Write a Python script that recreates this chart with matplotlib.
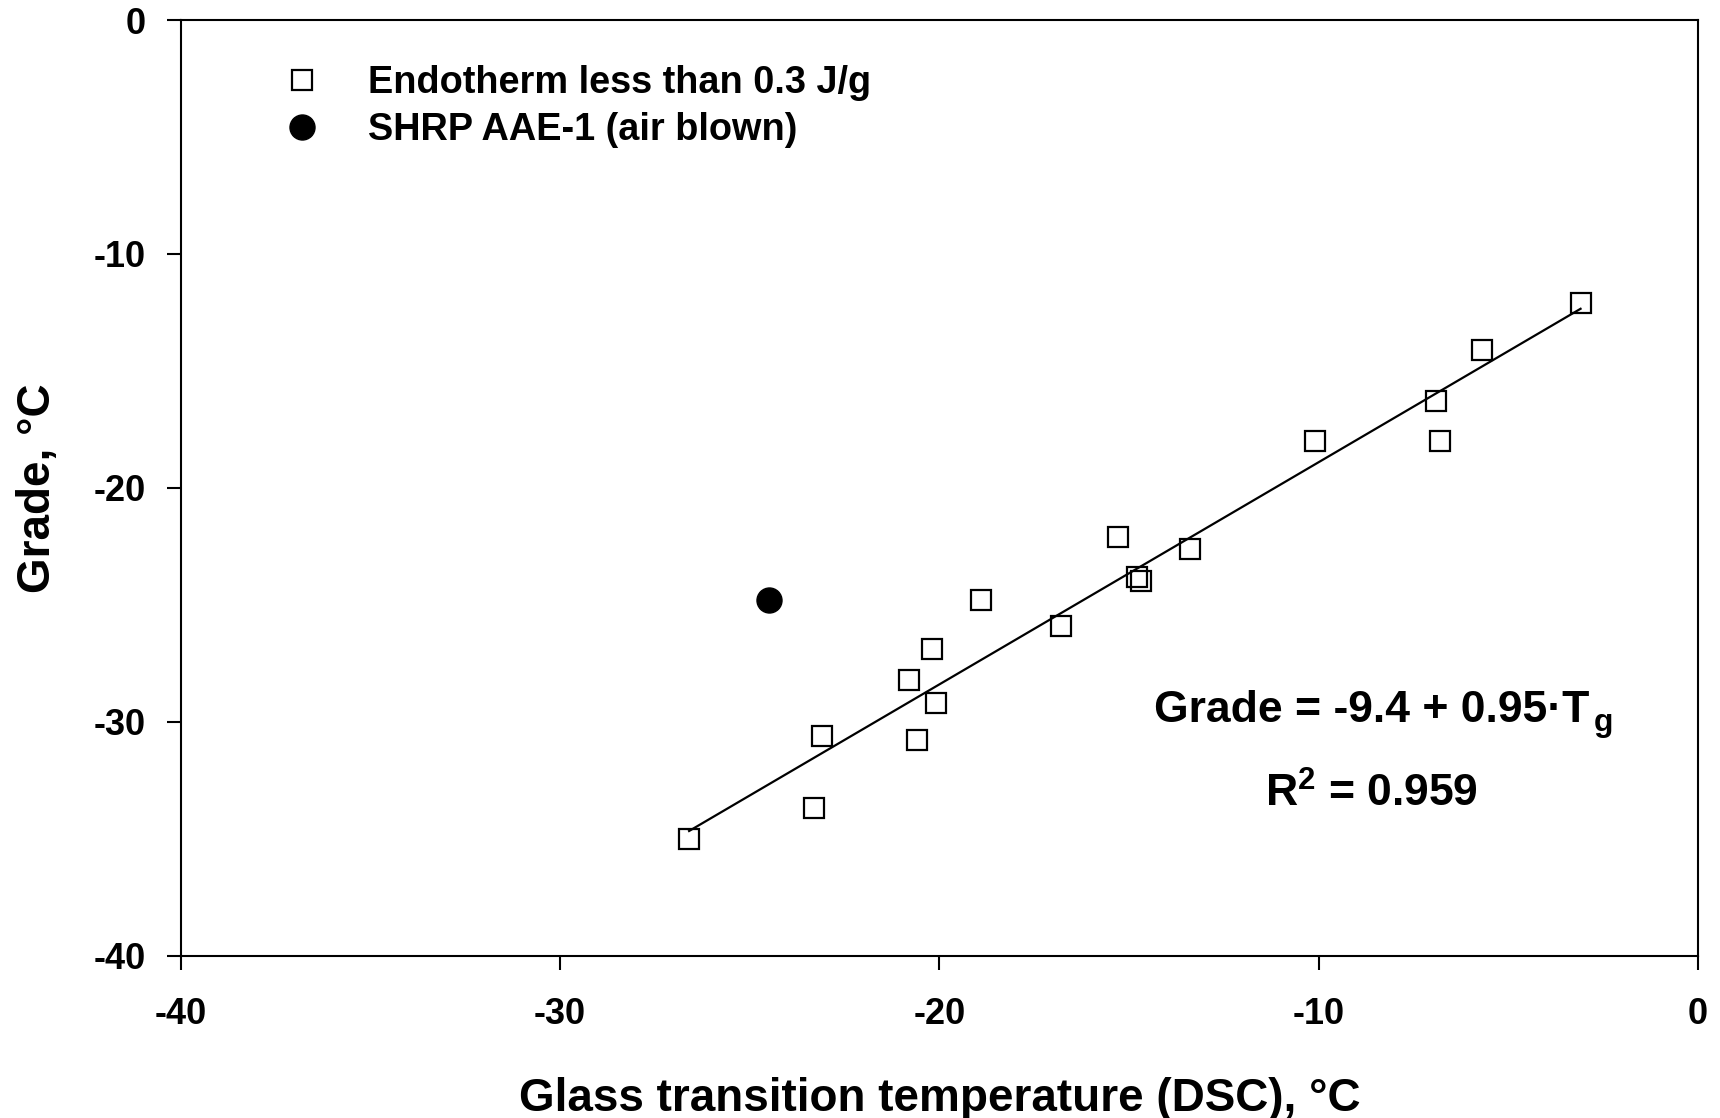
import matplotlib.pyplot as plt
from matplotlib.lines import Line2D
import numpy as np

plt.rcParams['font.family'] = ['Liberation Sans', 'DejaVu Sans']
plt.rcParams['font.weight'] = 'bold'
plt.rcParams['axes.unicode_minus'] = False
plt.rcParams['mathtext.fontset'] = 'custom'
plt.rcParams['mathtext.rm'] = 'Liberation Sans:bold'
plt.rcParams['mathtext.it'] = 'Liberation Sans:bold'
plt.rcParams['mathtext.bf'] = 'Liberation Sans:bold'

# binders with an endotherm below 0.3 J/g (Tg by DSC vs low-temperature grade)
tg_low = [-26.6, -23.3, -23.1, -20.8, -20.6, -20.2, -20.1, -18.9, -16.8,
          -15.3, -14.8, -14.7, -13.4, -10.1, -6.9, -6.8, -5.7, -3.1]
grade_low = [-35.0, -33.7, -30.6, -28.2, -30.8, -26.9, -29.2, -24.8, -25.9,
             -22.1, -23.8, -24.0, -22.6, -18.0, -16.3, -18.0, -14.1, -12.1]

# air blown binder, left out of the fit
tg_aae = [-24.5]
grade_aae = [-24.8]

# regression on the low-endotherm set
intercept = -9.4
slope = 0.95
r_squared = 0.959

x_ticks = [-40, -30, -20, -10, 0]
y_ticks = [-40, -30, -20, -10, 0]

fig = plt.figure(figsize=(17.2, 11.18), dpi=100)
ax = fig.add_axes([0.1051, 0.1452, 0.8822, 0.8369])

fit_x = np.array([min(tg_low), max(tg_low)])
ax.plot(fit_x, intercept + slope * fit_x, color='black', lw=1.6, zorder=2)

ax.plot(tg_low, grade_low, ls='none', marker='s', ms=14, mfc='none',
        mec='black', mew=1.6, zorder=3)
ax.plot(tg_aae, grade_aae, ls='none', marker='o', ms=18, mfc='black',
        mec='black', mew=1, zorder=3)

ax.set_xlim(-40, 0)
ax.set_ylim(-40, 0)
ax.set_xticks(x_ticks)
ax.set_yticks(y_ticks)
ax.tick_params(axis='both', direction='out', length=10, width=1.5,
               labelsize=26)
ax.tick_params(axis='x', pad=20)
ax.tick_params(axis='y', pad=15)
for s in ax.spines.values():
    s.set_linewidth(1.5)

ax.set_xlabel('Glass transition temperature (DSC), °C', fontsize=33,
              fontweight='bold')
ax.set_ylabel('Grade, °C', fontsize=33, fontweight='bold')
ax.xaxis.set_label_coords(0.5, -0.1296)
ax.yaxis.set_label_coords(-0.0795, 0.5)

handles = [
    Line2D([], [], ls='none', marker='s', ms=14, mfc='none', mec='black',
           mew=1.6),
    Line2D([], [], ls='none', marker='o', ms=18, mfc='black', mec='black'),
]
ax.legend(handles, ['Endotherm less than 0.3 J/g', 'SHRP AAE-1 (air blown)'],
          loc='upper left', bbox_to_anchor=(0.0674, 0.952), frameon=False,
          fontsize=27.3, handlelength=1.0, handletextpad=1.25,
          labelspacing=0.3, borderpad=0, borderaxespad=0)

# fit equation, with the subscript g set as its own smaller text
eq = ax.text(0.6412, 0.2501, f'Grade = {intercept} + {slope}·T',
             transform=ax.transAxes, fontsize=32, ha='left', va='baseline')
ax.annotate('g', xy=(1, 0), xycoords=eq, xytext=(3, 0),
            textcoords='offset points', fontsize=23, ha='left',
            va='baseline')
ax.text(0.7145, 0.1592, f'R$^{{2}}$ = {r_squared}',
        transform=ax.transAxes, fontsize=32, ha='left', va='baseline')

plt.savefig('out.png', dpi=100)
